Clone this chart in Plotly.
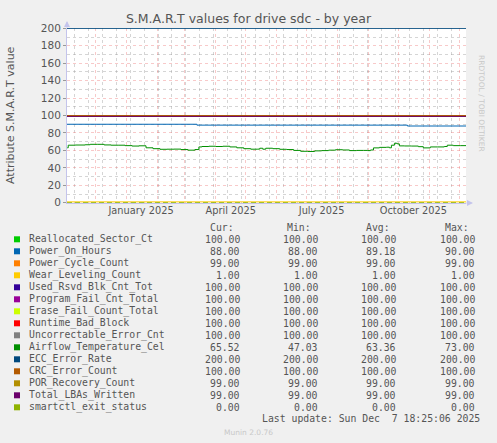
import plotly.graph_objects as go

# canvas and plot box in pixels (Munin / rrdtool year graph)
W, H = 497, 443
L, R, T, B = 67, 466, 28, 203

start = "2024-11-02 18:25"
end = "2025-12-07 18:25"

names = [
    "Reallocated_Sector_Ct", "Power_On_Hours", "Power_Cycle_Count",
    "Wear_Leveling_Count", "Used_Rsvd_Blk_Cnt_Tot", "Program_Fail_Cnt_Total",
    "Erase_Fail_Count_Total", "Runtime_Bad_Block", "Uncorrectable_Error_Cnt",
    "Airflow_Temperature_Cel", "ECC_Error_Rate", "CRC_Error_Count",
    "POR_Recovery_Count", "Total_LBAs_Written", "smartctl_exit_status",
]
colors = [
    "#00CC00", "#0066B3", "#FF8000", "#FFCC00", "#330099", "#990099",
    "#CCFF00", "#FF0000", "#808080", "#008F00", "#00487D", "#B35A00",
    "#B38F00", "#6B006B", "#8FB300",
]
# flat series (None = series has its own arrays below)
levels = [100, None, 99, 1, 100, 100, 100, 100, 100, None, 200, 100, 99, 99, 0]

cur = [100, 88, 99, 1, 100, 100, 100, 100, 100, 65.52, 200, 100, 99, 99, 0]
mins = [100, 88, 99, 1, 100, 100, 100, 100, 100, 47.03, 200, 100, 99, 99, 0]
avgs = [100, 89.18, 99, 1, 100, 100, 100, 100, 100, 63.36, 200, 100, 99, 99, 0]
maxs = [100, 90, 99, 1, 100, 100, 100, 100, 100, 73, 200, 100, 99, 99, 0]

poh_dates = ["2024-11-02 18:25", "2025-03-13", "2025-10-10", "2025-12-07 18:25"]
poh_values = [90, 89, 88, 88]

temp_dates = [
    "2024-11-03", "2024-11-04", "2024-11-11", "2024-11-21", "2024-11-26",
    "2024-12-03", "2024-12-10", "2024-12-17", "2024-12-24", "2024-12-31",
    "2025-01-07", "2025-01-14", "2025-01-21", "2025-01-28", "2025-02-04",
    "2025-02-11", "2025-02-18", "2025-02-25", "2025-03-04", "2025-03-11",
    "2025-03-15", "2025-03-18", "2025-03-25", "2025-04-01", "2025-04-08",
    "2025-04-15", "2025-04-22", "2025-04-29", "2025-05-06", "2025-05-13",
    "2025-05-15", "2025-05-18", "2025-05-21", "2025-05-28", "2025-06-04",
    "2025-06-11", "2025-06-18", "2025-06-25", "2025-07-02", "2025-07-09",
    "2025-07-16", "2025-07-23", "2025-07-30", "2025-08-06", "2025-08-13",
    "2025-08-20", "2025-08-27", "2025-08-31", "2025-09-03", "2025-09-06",
    "2025-09-12", "2025-09-19", "2025-09-22", "2025-09-24", "2025-09-27",
    "2025-09-30", "2025-10-02", "2025-10-07", "2025-10-14", "2025-10-21",
    "2025-10-26", "2025-11-01", "2025-11-02", "2025-11-09", "2025-11-16",
    "2025-11-19", "2025-11-25", "2025-12-02", "2025-12-07 18:25",
]
temp_values = [
    63.0, 66.0, 66.2, 66.5, 67.0,
    67.0, 66.3, 66.0, 66.0, 65.5,
    65.0, 65.3, 63.0, 62.0, 61.3,
    61.4, 61.5, 61.0, 60.3, 61.0,
    64.0, 64.5, 64.8, 64.5, 64.8,
    64.0, 63.0, 62.0, 61.4, 61.5,
    62.5, 61.4, 62.5, 62.0, 61.3,
    61.0, 60.0, 59.0, 58.8, 59.5,
    59.8, 60.3, 60.8, 60.5, 59.8,
    60.0, 60.0, 59.8, 60.5, 62.9,
    63.5, 63.7, 63.0, 66.0, 68.2,
    67.5, 65.2, 65.1, 65.0, 64.3,
    62.9, 63.0, 64.0, 64.0, 64.5,
    66.0, 65.5, 65.5, 65.5,
]

month_ticks = ["2025-01-16", "2025-04-16", "2025-07-16", "2025-10-16"]
month_labels = ["January 2025", "April 2025", "July 2025", "October 2025"]


def fx(px):
    return (px - L) / (R - L)


def fy(py):
    return (B - py) / (B - T)


fig = go.Figure()

for i, name in enumerate(names):
    if i == 1:
        x, y, shape = poh_dates, poh_values, "hv"
    elif i == 9:
        x, y, shape = temp_dates, temp_values, "hv"
    else:
        x, y, shape = [start, end], [levels[i], levels[i]], "linear"
    dash = "5px,3px" if name == "smartctl_exit_status" else "solid"
    fig.add_trace(go.Scatter(
        x=x, y=y, mode="lines", name=name,
        line=dict(color=colors[i], width=1.0, shape=shape, dash=dash),
        hoverinfo="skip",
    ))

# carrier for the month label axis
fig.add_trace(go.Scatter(x=[start, end], y=[None, None], xaxis="x2",
                         showlegend=False, hoverinfo="skip"))

red_grid = "rgba(235,100,100,0.35)"
gray_grid = "rgba(150,150,150,0.4)"
axis_col = "#C4C4EC"
text_col = "#555555"
mono = "DejaVu Sans Mono"

fig.update_layout(
    width=W, height=H,
    margin=dict(l=L, r=W - R, t=T, b=H - B),
    paper_bgcolor="#F0F0F0",
    plot_bgcolor="#FFFFFF",
    showlegend=False,
    font=dict(family="DejaVu Sans", color=text_col),
    title=dict(text="S.M.A.R.T values for drive sdc - by year",
               x=0.5, xref="container", xanchor="center",
               y=1 - 19 / H, yanchor="middle",
               font=dict(size=12.5, color="#555555")),
    xaxis=dict(
        type="date", range=[start, end],
        dtick="M1", tick0="2024-12-01", showticklabels=False, ticks="",
        showgrid=True, gridcolor=red_grid, griddash="dot", gridwidth=1,
        minor=dict(dtick=14 * 86400000, tick0="2024-11-10", showgrid=True,
                   gridcolor=gray_grid, griddash="dot", gridwidth=1),
        showline=True, linecolor=axis_col, zeroline=False,
    ),
    xaxis2=dict(
        type="date", range=[start, end], overlaying="x", side="bottom",
        anchor="y", tickmode="array", tickvals=month_ticks,
        ticktext=month_labels, showgrid=False, ticks="",
        tickfont=dict(size=9.8, color=text_col), zeroline=False,
    ),
    yaxis=dict(
        range=[-0.3, 200.4], tick0=0, dtick=20,
        showgrid=True, gridcolor=red_grid, griddash="dot", gridwidth=1,
        minor=dict(dtick=10, showgrid=True, gridcolor=gray_grid,
                   griddash="dot", gridwidth=1),
        ticks="outside", ticklen=3, tickcolor="#999999",
        tickfont=dict(size=10.5, color=text_col),
        showline=True, linecolor=axis_col, zeroline=False,
    ),
)

annotations = []
shapes = []

# vertical axis label
annotations.append(dict(x=fx(10), y=fy(115), xref="paper", yref="paper",
                        text="Attribute S.M.A.R.T value", textangle=-90,
                        showarrow=False, xanchor="center", yanchor="middle",
                        font=dict(size=11, color=text_col)))

# axis arrows
annotations.append(dict(x=fx(L), y=fy(21), xref="paper", yref="paper",
                        ax=0, ay=8, showarrow=True, arrowhead=2,
                        arrowsize=1, arrowwidth=1.2, arrowcolor=axis_col,
                        text=""))
annotations.append(dict(x=fx(473), y=fy(B), xref="paper", yref="paper",
                        ax=-8, ay=0, showarrow=True, arrowhead=2,
                        arrowsize=1, arrowwidth=1.2, arrowcolor=axis_col,
                        text=""))

# rrdtool credit
annotations.append(dict(x=fx(488), y=fy(53), xref="paper", yref="paper",
                        text="RRDTOOL / TOBI OETIKER", textangle=90,
                        showarrow=False, font=dict(size=7.5, color="#C8C8C8")))

# legend table
col_right = [241.7, 320, 398.3, 476.7]
head_right = [235.7, 312.7, 391.7, 470.7]
headers = ["Cur:", "Min:", "Avg:", "Max:"]
for hx, htxt in zip(head_right, headers):
    annotations.append(dict(x=fx(hx), y=fy(227.7), xref="paper", yref="paper",
                            text=htxt, showarrow=False, xanchor="right",
                            yanchor="middle",
                            font=dict(family=mono, size=9.8, color=text_col)))

for i, name in enumerate(names):
    row_y = 239.3 + 12 * i
    shapes.append(dict(type="rect", xref="paper", yref="paper",
                       x0=fx(14), x1=fx(20), y0=fy(row_y + 3), y1=fy(row_y - 3),
                       fillcolor=colors[i], line=dict(width=0)))
    annotations.append(dict(x=fx(26.5), y=fy(row_y), xref="paper",
                            yref="paper", text=name, showarrow=False,
                            xanchor="left", yanchor="middle",
                            font=dict(family=mono, size=9.8, color=text_col)))
    for cx, vals in zip(col_right, [cur, mins, avgs, maxs]):
        annotations.append(dict(x=fx(cx), y=fy(row_y), xref="paper",
                                yref="paper", text=f"{vals[i]:.2f}",
                                showarrow=False, xanchor="right",
                                yanchor="middle",
                                font=dict(family=mono, size=9.8,
                                          color=text_col)))

annotations.append(dict(x=fx(482), y=fy(419), xref="paper", yref="paper",
                        text="Last update: Sun Dec \u00a07 18:25:06 2025",
                        showarrow=False, xanchor="right", yanchor="middle",
                        font=dict(family=mono, size=9.8, color=text_col)))
annotations.append(dict(x=fx(248), y=fy(433), xref="paper", yref="paper",
                        text="Munin 2.0.76", showarrow=False,
                        xanchor="center", yanchor="middle",
                        font=dict(size=7.5, color="#C8C8C8")))

fig.update_layout(annotations=annotations, shapes=shapes)

# drop the default body margin so the figure sits at the page corner
fig.write_html("out.html", config={"displayModeBar": False},
               post_script="document.body.style.margin='0';"
                           "document.body.style.overflow='hidden';")
